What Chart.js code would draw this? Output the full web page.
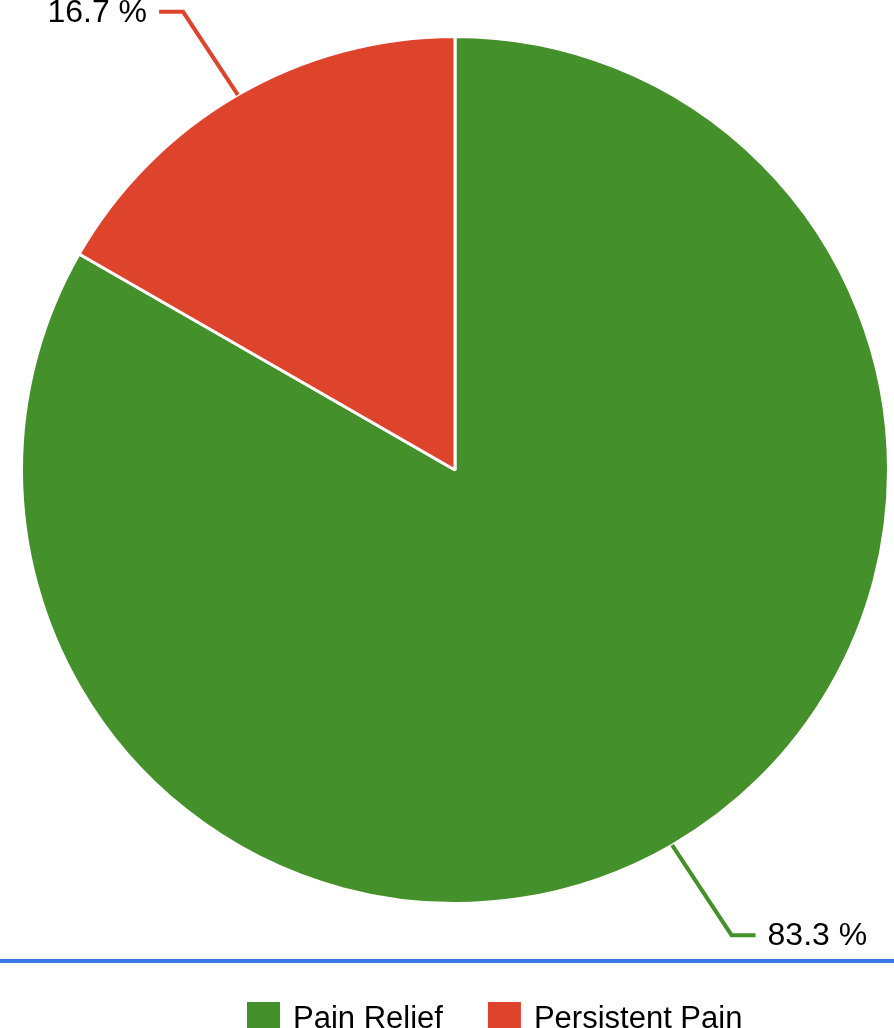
<!DOCTYPE html>
<html>
<head>
<meta charset="utf-8">
<script src="https://cdn.jsdelivr.net/npm/chart.js@4"></script>
<style>
html,body{margin:0;padding:0;background:#fff;overflow:hidden;}
#wrap{width:894px;height:1028px;position:relative;}
</style>
</head>
<body>
<div id="wrap"><canvas id="c" width="894" height="1028"></canvas></div>
<script>
const categories = ['Pain Relief', 'Persistent Pain'];
const values = [83.3, 16.7];
const colors = ['#44902a', '#de432c'];
const valueLabels = values.map(v => v.toFixed(1) + ' %');

const FONT = '32px "Liberation Sans", Arial, sans-serif';

const decor = {
  id: 'decor',
  afterDraw(chart) {
    const ctx = chart.ctx;
    const meta = chart.getDatasetMeta(0);
    ctx.save();
    ctx.font = FONT;
    ctx.lineWidth = 4;
    ctx.lineJoin = 'miter';
    meta.data.forEach((arc, i) => {
      const p = arc.getProps(['x', 'y', 'startAngle', 'endAngle', 'outerRadius'], true);
      const mid = (p.startAngle + p.endAngle) / 2;
      const cx = Math.cos(mid), cy = Math.sin(mid);
      const ex = p.x + cx * p.outerRadius;
      const ey = p.y + cy * p.outerRadius;
      const sx = cx >= 0 ? 1 : -1;
      const sy = cy >= 0 ? 1 : -1;
      const L = sy < 0 ? 83 : 90;
      const bx = ex + sx * 0.66 * L;
      const by = ey + sy * L;
      const hx = bx + sx * 24;
      ctx.strokeStyle = colors[i];
      ctx.beginPath();
      ctx.moveTo(ex, ey);
      ctx.lineTo(bx, by);
      ctx.lineTo(hx, by);
      ctx.stroke();
      ctx.fillStyle = '#000';
      ctx.textBaseline = 'middle';
      ctx.textAlign = sx > 0 ? 'left' : 'right';
      ctx.fillText(valueLabels[i], hx + sx * 12, by + 1);
    });
    // blue separator
    ctx.fillStyle = '#3a79e4';
    ctx.fillRect(0, 959, chart.width, 4);
    // legend
    let x = 247;
    ctx.textAlign = 'left';
    ctx.textBaseline = 'alphabetic';
    ctx.font = '31px "Liberation Sans", Arial, sans-serif';
    categories.forEach((name, i) => {
      ctx.fillStyle = colors[i];
      ctx.fillRect(x, 1002, 33, 30);
      ctx.fillStyle = '#000';
      ctx.fillText(name, x + 46, 1028);
      x += 46 + ctx.measureText(name).width + 45;
    });
    ctx.restore();
  }
};

new Chart(document.getElementById('c'), {
  type: 'pie',
  data: {
    labels: categories,
    datasets: [{
      data: values,
      backgroundColor: colors,
      borderColor: '#ffffff',
      borderWidth: 3
    }]
  },
  options: {
    responsive: false,
    animation: false,
    layout: { padding: { top: 35, bottom: 123, left: 20, right: 4 } },
    plugins: {
      legend: { display: false },
      tooltip: { enabled: false }
    }
  },
  plugins: [decor]
});
</script>
</body>
</html>
